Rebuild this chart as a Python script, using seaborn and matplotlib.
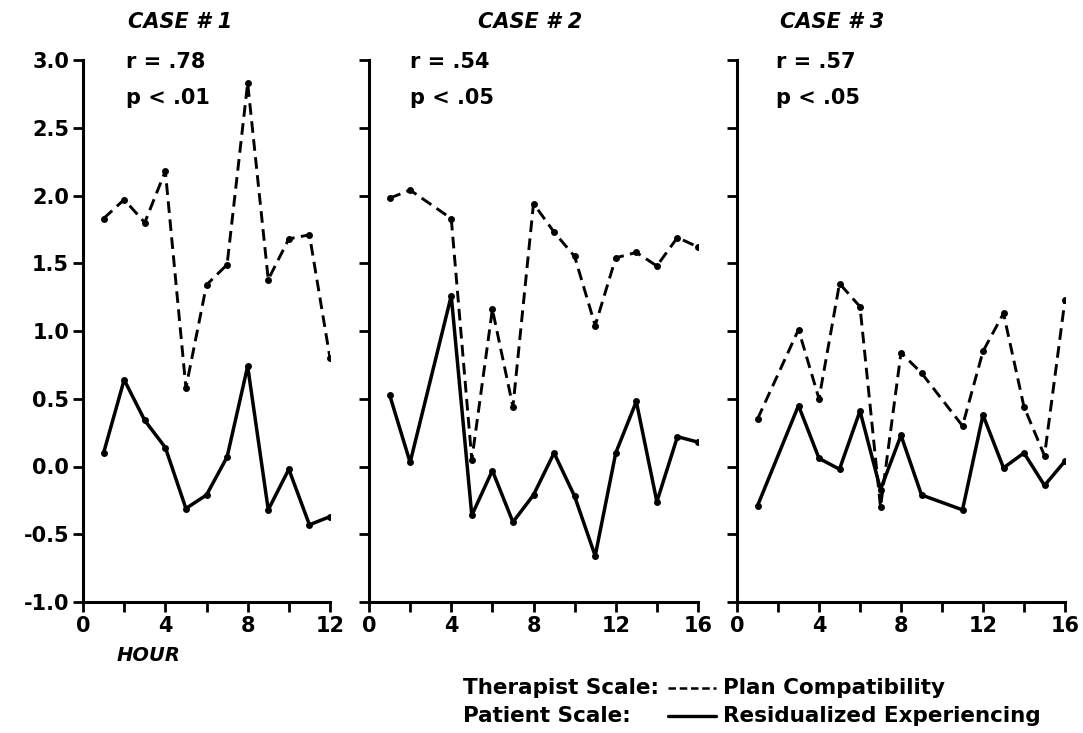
import numpy as np
import pandas as pd
import seaborn as sns
import matplotlib.pyplot as plt
from matplotlib.lines import Line2D

# hours and values
hours_1 = [1, 2, 3, 4, 5, 6, 7, 8, 9, 10, 11, 12]
plan_1 = [1.83, 1.97, 1.80, 2.18, 0.58, 1.34, 1.49, 2.83, 1.38, 1.68, 1.71, 0.80]
exper_1 = [0.10, 0.64, 0.34, 0.14, -0.31, -0.21, 0.07, 0.74, -0.32, -0.02, -0.43, -0.37]

hours_2 = [1, 2, 4, 5, 6, 7, 8, 9, 10, 11, 12, 13, 14, 15, 16]
plan_2 = [1.98, 2.04, 1.83, 0.05, 1.16, 0.44, 1.94, 1.73, 1.55, 1.04, 1.54, 1.58, 1.48, 1.69, 1.62]
exper_2 = [0.53, 0.03, 1.26, -0.36, -0.03, -0.41, -0.21, 0.10, -0.22, -0.66, 0.10, 0.48, -0.26, 0.22, 0.18]

hours_3 = [1, 3, 4, 5, 6, 7, 8, 9, 11, 12, 13, 14, 15, 16]
plan_3 = [0.35, 1.01, 0.50, 1.35, 1.18, -0.30, 0.84, 0.69, 0.30, 0.85, 1.13, 0.44, 0.08, 1.23]
exper_3 = [-0.29, 0.45, 0.06, -0.02, 0.41, -0.17, 0.23, -0.21, -0.32, 0.38, -0.01, 0.10, -0.14, 0.04]

case_titles = ["CASE # 1", "CASE # 2", "CASE # 3"]
r_labels = ["r = .78", "r = .54", "r = .57"]
p_labels = ["p < .01", "p < .05", "p < .05"]
max_hours = [12, 16, 16]
y_ticks = [-1.0, -0.5, 0.0, 0.5, 1.0, 1.5, 2.0, 2.5, 3.0]

sns.set_style("ticks")
plt.rcParams["font.family"] = ["DejaVu Sans"]
plt.rcParams["font.weight"] = "bold"
plt.rcParams["text.color"] = "black"
plt.rcParams["xtick.color"] = "black"
plt.rcParams["ytick.color"] = "black"
plt.rcParams["axes.edgecolor"] = "black"

fig = plt.figure(figsize=(10.83, 7.33), dpi=100)
W, H = 1083, 733
bottom_px, top_px = 602, 60
panel_px = [(83, 330), (369, 698), (737, 1065)]

panels = [(hours_1, plan_1, exper_1), (hours_2, plan_2, exper_2), (hours_3, plan_3, exper_3)]
case_x = [2.2, 5.3, 2.1]
text_x = [2.1, 2.0, 1.9]

for i, (hrs, plan, exper) in enumerate(panels):
    x0, x1 = panel_px[i]
    ax = fig.add_axes([x0 / W, 1 - bottom_px / H, (x1 - x0) / W, (bottom_px - top_px) / H])
    df = pd.DataFrame({"hour": hrs, "plan": plan, "exper": exper})
    sns.lineplot(data=df, x="hour", y="plan", ax=ax, color="black", linewidth=2.1,
                 linestyle=(0, (4, 2.2)), marker="o", markersize=5, markeredgewidth=0)
    sns.lineplot(data=df, x="hour", y="exper", ax=ax, color="black", linewidth=2.5,
                 marker="o", markersize=5, markeredgewidth=0)

    ax.set_xlim(0, max_hours[i])
    ax.set_ylim(-1.0, 3.0)
    ax.set_xticks(np.arange(0, max_hours[i] + 1, 4))
    ax.set_xticks(np.arange(0, max_hours[i] + 1, 2), minor=True)
    ax.set_yticks(y_ticks)
    if i == 0:
        ax.set_yticklabels([f"{t:.1f}" for t in y_ticks])
    else:
        ax.set_yticklabels([])
    ax.set_xlabel("")
    ax.set_ylabel("")
    sns.despine(ax=ax)
    for s in ["left", "bottom"]:
        ax.spines[s].set_linewidth(2.2)
    ax.tick_params(axis="both", which="both", direction="out", width=2, length=7,
                   labelsize=15, pad=3)
    for lab in ax.get_xticklabels() + ax.get_yticklabels():
        lab.set_fontweight("bold")

    tr = ax.get_xaxis_transform()
    ax.text(case_x[i], 1.07, case_titles[i], transform=tr, clip_on=False,
            fontsize=15, fontweight="bold", fontstyle="italic", va="center", ha="left")
    ax.text(text_x[i], 0.996, r_labels[i], transform=tr, clip_on=False,
            fontsize=15, fontweight="bold", va="center", ha="left")
    ax.text(text_x[i], 0.93, p_labels[i], transform=tr, clip_on=False,
            fontsize=15, fontweight="bold", va="center", ha="left")
    if i == 0:
        ax.text(3.2, -0.098, "HOUR", transform=tr, clip_on=False,
                fontsize=14, fontweight="bold", fontstyle="italic", va="center", ha="center")

# key at the bottom right
fs_key = 15.5
y_top, y_bot = 1 - 688 / H, 1 - 716 / H
fig.text(463 / W, y_top, "Therapist Scale:", fontsize=fs_key, fontweight="bold", va="center")
fig.text(463 / W, y_bot, "Patient Scale:", fontsize=fs_key, fontweight="bold", va="center")
fig.add_artist(Line2D([668 / W, 716 / W], [y_top] * 2, color="black", lw=1.8,
                      linestyle=(0, (3, 1.5))))
fig.add_artist(Line2D([668 / W, 716 / W], [y_bot] * 2, color="black", lw=2.4))
fig.text(723 / W, y_top, "Plan Compatibility", fontsize=fs_key, fontweight="bold", va="center")
fig.text(723 / W, y_bot, "Residualized Experiencing", fontsize=fs_key, fontweight="bold", va="center")

fig.savefig("out.png", dpi=100)
